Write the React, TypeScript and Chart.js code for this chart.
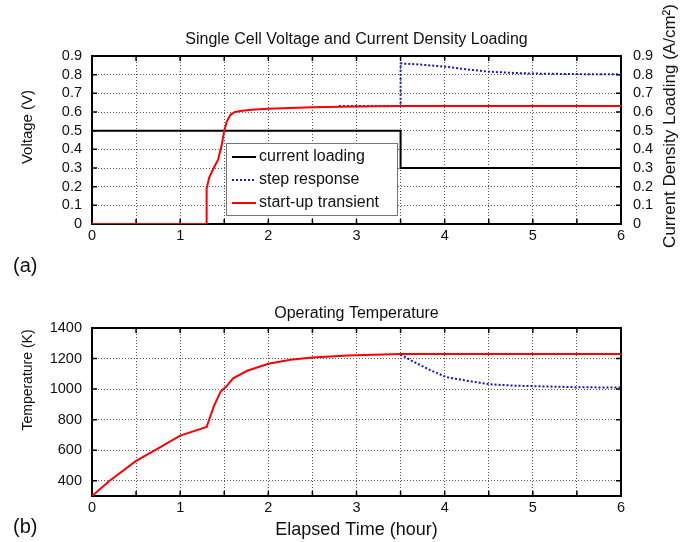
import React, { useEffect, useRef } from 'react';
import { Chart, registerables } from 'chart.js';

Chart.register(...registerables);

const FONT = '"Liberation Sans", Arial, Helvetica, sans-serif';
const INK = '#111';

// ---------- tick values ----------
const timeTicks = [0, 0.5, 1, 1.5, 2, 2.5, 3, 3.5, 4, 4.5, 5, 5.5, 6];
const voltageTicks = [0, 0.1, 0.2, 0.3, 0.4, 0.5, 0.6, 0.7, 0.8, 0.9];
const temperatureTicks = [400, 600, 800, 1000, 1200, 1400];

// ---------- (a) voltage / current loading ----------
const loadingTime = [0, 3.5, 3.5, 6];
const loadingValue = [0.5, 0.5, 0.3, 0.3];

const stepTime = [2.8, 3.5, 3.5, 3.7, 4.0, 4.3, 4.5, 4.8, 5.0, 5.5, 6.0];
const stepVoltage = [0.632, 0.632, 0.86, 0.855, 0.843, 0.826, 0.816, 0.809, 0.806, 0.803, 0.802];

const startupTime = [0, 1.3, 1.3, 1.33, 1.38, 1.43, 1.47, 1.5, 1.53, 1.57, 1.62, 1.7, 1.85, 2.0, 2.5, 3.0, 3.5, 6.0];
const startupVoltage = [0, 0, 0.19, 0.25, 0.3, 0.345, 0.42, 0.5, 0.55, 0.585, 0.6, 0.607, 0.613, 0.618, 0.625, 0.63, 0.632, 0.632];

// ---------- (b) operating temperature ----------
const tempTime = [0, 0.2, 0.5, 0.75, 1.0, 1.3, 1.38, 1.46, 1.52, 1.6, 1.76, 2.0, 2.25, 2.5, 2.9, 3.5, 6.0];
const tempValue = [300, 400, 530, 612, 695, 752, 885, 985, 1015, 1070, 1120, 1166, 1192, 1207, 1220, 1230, 1230];

const tempStepTime = [3.5, 3.64, 3.83, 4.02, 4.24, 4.5, 4.77, 5.0, 5.53, 6.0];
const tempStepValue = [1228, 1181, 1126, 1078, 1056, 1032, 1023, 1019, 1012, 1010];

const pts = (xs: number[], ys: number[]) => xs.map((x, i) => ({ x, y: ys[i] }));

// ---------- plugins ----------
const framePlugin = {
  id: 'frame',
  beforeDatasetsDraw(chart: any) {
    const { ctx, chartArea: a } = chart;
    const xs = chart.scales.x;
    const ys = chart.scales.y;
    ctx.save();
    ctx.strokeStyle = '#000';
    ctx.lineWidth = 1.5;
    const L = 5;
    ctx.beginPath();
    xs.ticks.forEach((t: any) => {
      const p = xs.getPixelForValue(t.value);
      ctx.moveTo(p, a.bottom);
      ctx.lineTo(p, a.bottom - L);
      ctx.moveTo(p, a.top);
      ctx.lineTo(p, a.top + L);
    });
    ys.ticks.forEach((t: any) => {
      const p = ys.getPixelForValue(t.value);
      ctx.moveTo(a.left, p);
      ctx.lineTo(a.left + L, p);
      ctx.moveTo(a.right, p);
      ctx.lineTo(a.right - L, p);
    });
    ctx.stroke();
    ctx.lineWidth = 2;
    ctx.strokeRect(a.left, a.top, a.right - a.left, a.bottom - a.top);
    ctx.restore();
  },
};

type TextItem = { text: string; x: number; y: number; size: number; rotate?: number; align?: CanvasTextAlign };

const textPlugin = (items: TextItem[]) => ({
  id: 'freeText',
  afterDraw(chart: any) {
    const { ctx } = chart;
    items.forEach((it) => {
      ctx.save();
      ctx.font = `${it.size}px ${FONT}`;
      ctx.fillStyle = INK;
      ctx.textAlign = it.align || 'center';
      ctx.textBaseline = 'middle';
      ctx.translate(it.x, it.y);
      if (it.rotate) ctx.rotate(it.rotate);
      ctx.fillText(it.text, 0, 0);
      ctx.restore();
    });
  },
});

const legendPlugin = (box: { x: number; y: number; w: number; h: number; first: number; gap: number }) => ({
  id: 'boxLegend',
  afterDatasetsDraw(chart: any) {
    const { ctx } = chart;
    ctx.save();
    ctx.fillStyle = '#fff';
    ctx.fillRect(box.x, box.y, box.w, box.h);
    ctx.strokeStyle = '#777';
    ctx.lineWidth = 1;
    ctx.strokeRect(box.x + 0.5, box.y + 0.5, box.w, box.h);
    ctx.font = `16px ${FONT}`;
    ctx.textBaseline = 'middle';
    ctx.textAlign = 'left';
    chart.data.datasets.forEach((ds: any, i: number) => {
      const y = box.y + box.first + i * box.gap;
      ctx.strokeStyle = ds.borderColor;
      ctx.lineWidth = ds.borderWidth;
      ctx.setLineDash(ds.borderDash || []);
      ctx.beginPath();
      ctx.moveTo(box.x + 6, y);
      ctx.lineTo(box.x + 30, y);
      ctx.stroke();
      ctx.setLineDash([]);
      ctx.fillStyle = INK;
      ctx.fillText(ds.label, box.x + 33, y);
    });
    ctx.restore();
  },
});

const tickFont = { family: FONT, size: 14.5 };
const gridStyle = { color: '#555', lineWidth: 1, drawTicks: false };
const borderStyle = { display: false, dash: [1, 2] };

const timeScale = (height: number, title?: any) => ({
  type: 'linear',
  min: 0,
  max: 6,
  afterBuildTicks: (s: any) => {
    s.ticks = timeTicks.map((v) => ({ value: v }));
  },
  afterFit: (s: any) => {
    s.height = height;
  },
  ticks: {
    autoSkip: false,
    maxRotation: 0,
    padding: 3,
    color: INK,
    font: tickFont,
    callback: (v: number) => (Number.isInteger(v) ? String(v) : ''),
  },
  grid: gridStyle,
  border: borderStyle,
  title: title || { display: false },
});

const voltageScale = (position: string, width: number, pad: number, grid: boolean) => ({
  type: 'linear',
  position,
  min: 0,
  max: 0.9,
  afterBuildTicks: (s: any) => {
    s.ticks = voltageTicks.map((v) => ({ value: v }));
  },
  afterFit: (s: any) => {
    s.width = width;
  },
  ticks: {
    autoSkip: false,
    padding: pad,
    color: INK,
    font: tickFont,
    callback: (v: number) => (v === 0 ? '0' : v.toFixed(1)),
  },
  grid: grid ? gridStyle : { display: false, drawTicks: false },
  border: borderStyle,
});

const configA = () => ({
  type: 'line',
  data: {
    datasets: [
      {
        label: 'current loading',
        data: pts(loadingTime, loadingValue),
        yAxisID: 'y1',
        borderColor: '#000000',
        borderWidth: 2,
        pointRadius: 0,
        order: 3,
      },
      {
        label: 'step response',
        data: pts(stepTime, stepVoltage),
        yAxisID: 'y',
        borderColor: '#1414c8',
        borderWidth: 2,
        borderDash: [2, 2],
        pointRadius: 0,
        order: 2,
      },
      {
        label: 'start-up transient',
        data: pts(startupTime, startupVoltage),
        yAxisID: 'y',
        borderColor: '#ff0000',
        borderWidth: 2,
        pointRadius: 0,
        order: 1,
      },
    ],
  },
  options: {
    responsive: false,
    animation: false,
    layout: { padding: 0 },
    scales: {
      x: timeScale(56),
      y: voltageScale('left', 92, 10, true),
      y1: voltageScale('right', 71, 12, false),
    },
    plugins: {
      legend: { display: false },
      tooltip: { enabled: false },
      title: {
        display: true,
        text: 'Single Cell Voltage and Current Density Loading',
        fullSize: false,
        color: INK,
        font: { family: FONT, size: 16, weight: 'normal' },
        padding: { top: 30.4, bottom: 6.4 },
      },
    },
  },
  plugins: [
    framePlugin,
    legendPlugin({ x: 226, y: 143, w: 171, h: 72, first: 14, gap: 23 }),
    textPlugin([
      { text: 'Voltage (V)', x: 28, y: 127, size: 15, rotate: -Math.PI / 2 },
      { text: 'Current Density Loading (A/cm²)', x: 670, y: 126, size: 17, rotate: -Math.PI / 2 },
      { text: '(a)', x: 13, y: 266, size: 20, align: 'left' },
    ]),
  ],
});

const configB = () => ({
  type: 'line',
  data: {
    datasets: [
      {
        label: 'step response',
        data: pts(tempStepTime, tempStepValue),
        borderColor: '#1414c8',
        borderWidth: 2,
        borderDash: [2, 2],
        pointRadius: 0,
        order: 2,
      },
      {
        label: 'start-up transient',
        data: pts(tempTime, tempValue),
        borderColor: '#ff0000',
        borderWidth: 2,
        pointRadius: 0,
        order: 1,
      },
    ],
  },
  options: {
    responsive: false,
    animation: false,
    layout: { padding: { left: 0, top: 0, bottom: 0, right: 71 } },
    scales: {
      x: timeScale(46, {
        display: true,
        text: 'Elapsed Time (hour)',
        color: INK,
        font: { family: FONT, size: 18 },
        padding: { top: 0, bottom: 1.2 },
      }),
      y: {
        type: 'linear',
        position: 'left',
        min: 300,
        max: 1400,
        afterBuildTicks: (s: any) => {
          s.ticks = temperatureTicks.map((v) => ({ value: v }));
        },
        afterFit: (s: any) => {
          s.width = 92;
        },
        ticks: { autoSkip: false, padding: 10, color: INK, font: tickFont, callback: (v: number) => String(v) },
        grid: gridStyle,
        border: borderStyle,
      },
    },
    plugins: {
      legend: { display: false },
      tooltip: { enabled: false },
      title: {
        display: true,
        text: 'Operating Temperature',
        fullSize: false,
        color: INK,
        font: { family: FONT, size: 16, weight: 'normal' },
        padding: { top: 24.4, bottom: 4.4 },
      },
    },
  },
  plugins: [
    framePlugin,
    textPlugin([
      { text: 'Temperature (K)', x: 28, y: 100, size: 14, rotate: -Math.PI / 2 },
      { text: '(b)', x: 13, y: 247, size: 20, align: 'left' },
    ]),
  ],
});

function ChartCanvas({ make, top, height }: { make: () => any; top: number; height: number }) {
  const ref = useRef<HTMLCanvasElement | null>(null);
  useEffect(() => {
    const chart = new Chart(ref.current as HTMLCanvasElement, make());
    return () => chart.destroy();
  }, [make]);
  return (
    <canvas
      ref={ref}
      width={692}
      height={height}
      style={{ position: 'absolute', left: 0, top, width: 692, height, display: 'block' }}
    />
  );
}

export default function App() {
  return (
    <div style={{ position: 'absolute', left: 0, top: 0, width: 692, height: 542, background: '#fff', overflow: 'hidden' }}>
      <ChartCanvas make={configA} top={0} height={280} />
      <ChartCanvas make={configB} top={280} height={262} />
    </div>
  );
}
